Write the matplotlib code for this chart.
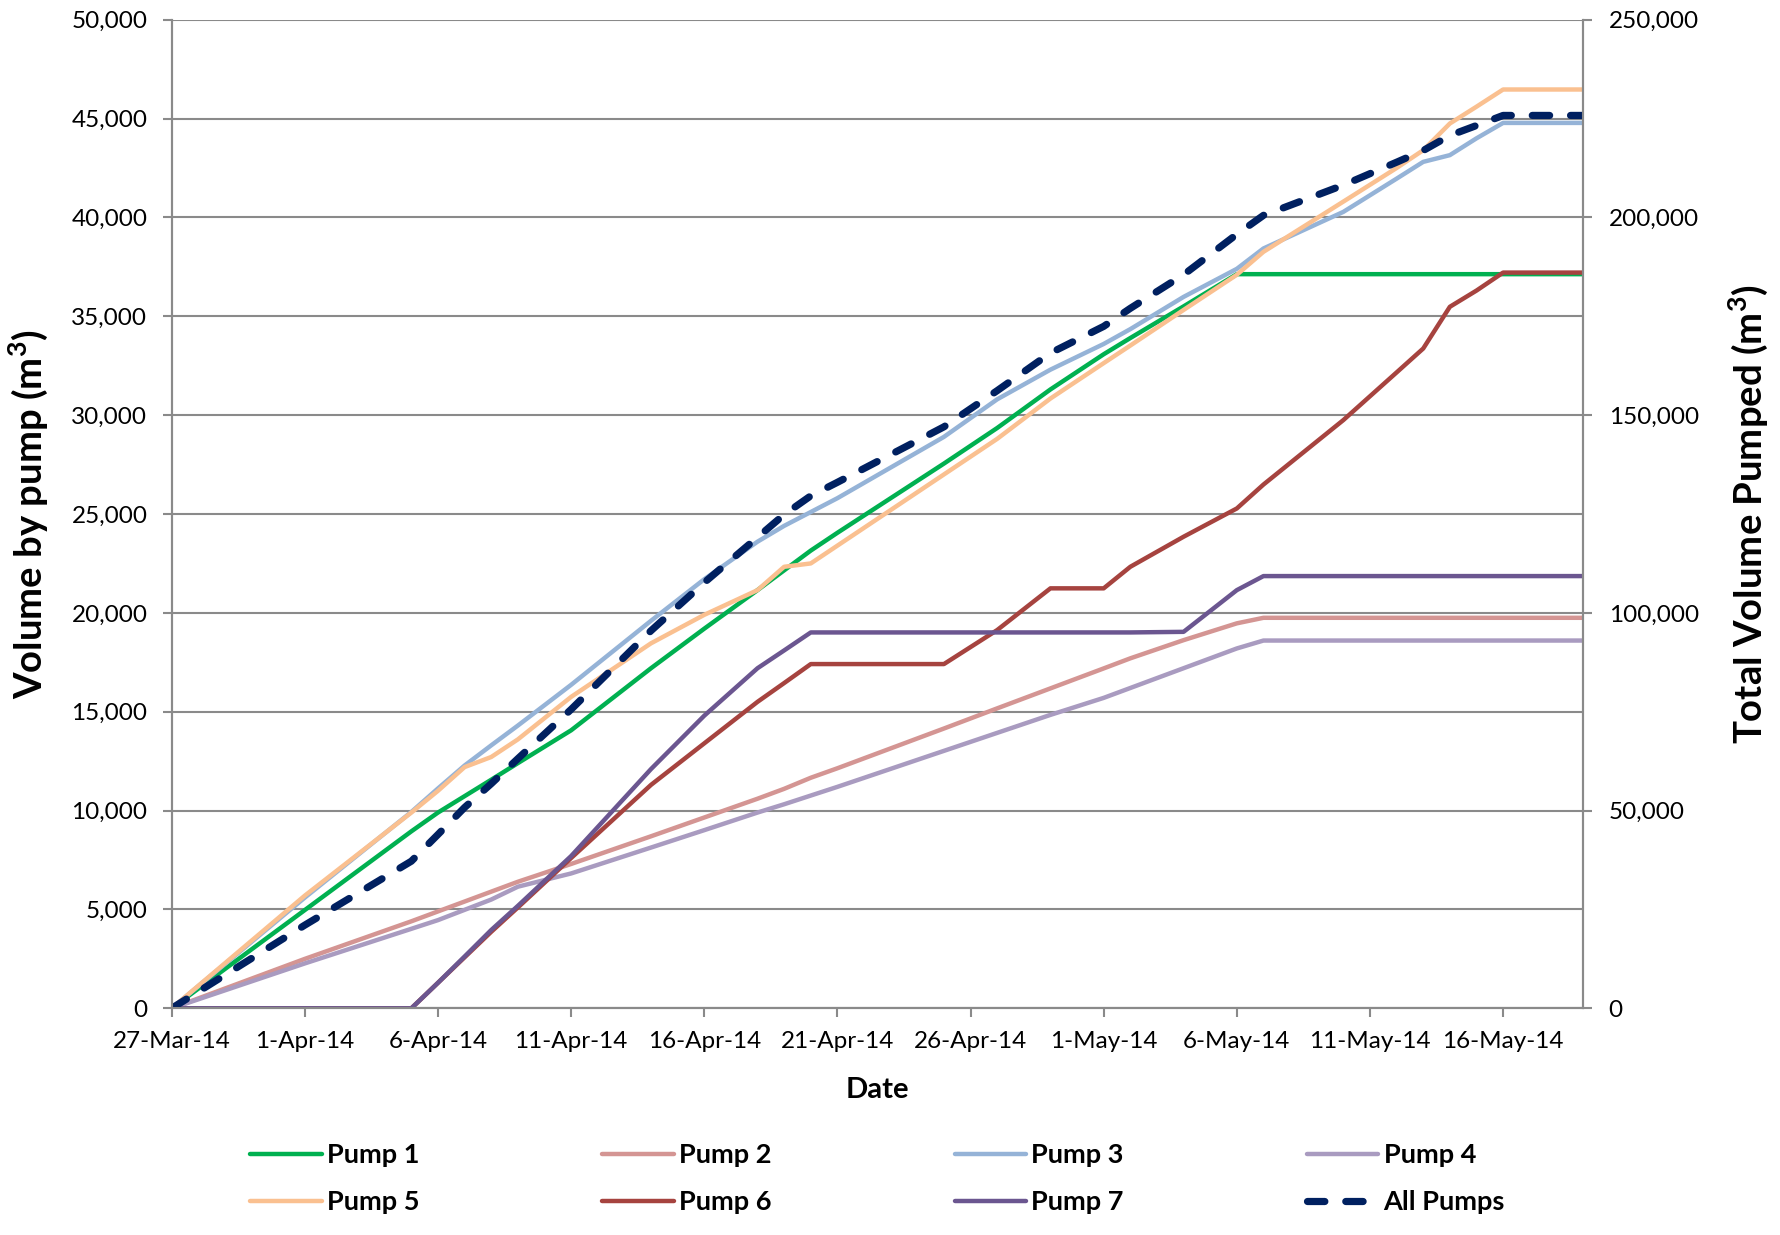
import numpy as np
import matplotlib
matplotlib.use("Agg")
import matplotlib.pyplot as plt
from matplotlib.ticker import FuncFormatter, MultipleLocator

plt.rcParams["font.family"] = ["Lato", "DejaVu Sans"]
plt.rcParams["mathtext.fontset"] = "custom"
plt.rcParams["mathtext.rm"] = "Lato"
plt.rcParams["mathtext.bf"] = "Lato:bold"

# ---- data -------------------------------------------------------------
start_date = np.datetime64("2014-03-27")
days = [0, 5, 9, 10, 11, 12, 13, 15, 18, 20, 22, 23, 24, 25, 29, 31, 33,
        35, 36, 38, 40, 41, 44, 46, 47, 48, 49, 50, 53]

pump1 = [0, 4970, 8950, 9900, 10730, 11560, 12400, 14060, 17200, 19200,
         21150, 22150, 23150, 24050, 27550, 29350, 31300, 33080, 33900,
         35500, 37130, 37130, 37130, 37130, 37130, 37130, 37130, 37130, 37130]
pump2 = [0, 2500, 4400, 4900, 5400, 5900, 6400, 7300, 8700, 9650, 10600,
         11100, 11660, 12140, 14150, 15170, 16180, 17190, 17700, 18620,
         19470, 19750, 19750, 19750, 19750, 19750, 19750, 19750, 19750]
pump3 = [0, 5600, 9930, 11120, 12280, 13300, 14300, 16360, 19600, 21700,
         23600, 24400, 25100, 25800, 28900, 30800, 32300, 33600, 34350,
         35980, 37400, 38430, 40280, 41960, 42810, 43150, 44000, 44780, 44780]
pump4 = [0, 2270, 4020, 4460, 4980, 5500, 6150, 6820, 8130, 9010, 9900,
         10320, 10760, 11200, 13020, 13930, 14840, 15700, 16200, 17200,
         18200, 18600, 18600, 18600, 18600, 18600, 18600, 18600, 18600]
pump5 = [0, 5700, 9900, 11000, 12200, 12710, 13600, 15750, 18460, 19900,
         21150, 22330, 22500, 23400, 27000, 28800, 30840, 32630, 33520,
         35320, 37100, 38260, 40800, 42500, 43400, 44750, 45600, 46470, 46470]
pump6 = [0, 0, 0, 1290, 2580, 3870, 5100, 7600, 11300, 13400, 15500, 16450,
         17410, 17410, 17410, 19130, 21240, 21240, 22330, 23850, 25280,
         26490, 29750, 32160, 33370, 35480, 36300, 37210, 37210]
pump7 = [0, 0, 0, 1290, 2620, 3960, 5180, 7700, 12100, 14800, 17200, 18100,
         19010, 19010, 19010, 19010, 19010, 19010, 19010, 19040, 21150,
         21860, 21860, 21860, 21860, 21860, 21860, 21860, 21860]
all_pumps = [0, 21040, 37200, 43960, 50790, 56800, 63130, 75590, 95490,
             107660, 119100, 124850, 129590, 133010, 147040, 156190, 165710,
             172450, 177010, 185510, 195730, 200520, 208170, 213960, 216920,
             220720, 223240, 225790, 225790]

series_names = ["Pump 1", "Pump 2", "Pump 3", "Pump 4", "Pump 5", "Pump 6", "Pump 7"]
series_values = [pump1, pump2, pump3, pump4, pump5, pump6, pump7]
series_colors = ["#00B050", "#D49593", "#95B3D7", "#A99BC0", "#FAC090",
                 "#A6433F", "#6B5690"]

tick_labels = ["27-Mar-14", "1-Apr-14", "6-Apr-14", "11-Apr-14", "16-Apr-14",
               "21-Apr-14", "26-Apr-14", "1-May-14", "6-May-14", "11-May-14",
               "16-May-14"]
last_day = 53

# ---- figure -----------------------------------------------------------
W, H = 1781, 1235
fig = plt.figure(figsize=(W / 100, H / 100), dpi=100)
ax = fig.add_axes([171.7 / W, 1 - 1008.3 / H, (1583 - 171.7) / W, (1008.3 - 19.7) / H])
ax2 = ax.twinx()

dates = start_date + np.array(days)
grid_col = "#8A8A8A"

handles = []
for name, vals, col in zip(series_names, series_values, series_colors):
    h, = ax.plot(dates, vals, color=col, lw=3.2, label=name,
                 solid_joinstyle="round", solid_capstyle="round")
    handles.append(h)

h_all, = ax2.plot(dates, all_pumps, color="#002060", lw=5.2,
                  linestyle=(0, (2.4, 2.9)), dash_capstyle="round",
                  label="All Pumps")
handles.append(h_all)

# axes limits & ticks
ax.set_xlim(start_date, start_date + last_day)
ax.set_ylim(0, 50000)
ax2.set_ylim(0, 250000)
ax.yaxis.set_major_locator(MultipleLocator(5000))
ax2.yaxis.set_major_locator(MultipleLocator(50000))
fmt = FuncFormatter(lambda v, p: f"{int(v):,}")
ax.yaxis.set_major_formatter(fmt)
ax2.yaxis.set_major_formatter(fmt)

tick_dates = start_date + 5 * np.arange(len(tick_labels))
ax.set_xticks(tick_dates)
ax.set_xticklabels(tick_labels)

ax.grid(axis="y", color=grid_col, lw=1.5)
ax.set_axisbelow(True)

for a in (ax, ax2):
    a.spines["top"].set_visible(False)
    for s in ("left", "right", "bottom"):
        a.spines[s].set_color(grid_col)
        a.spines[s].set_linewidth(1.5)

ax.tick_params(axis="both", which="major", labelsize=17.5, color=grid_col,
               width=1.5, length=6.5, direction="out")
ax.tick_params(axis="y", pad=11)
ax.tick_params(axis="x", pad=10)
ax2.tick_params(axis="y", labelsize=17.5, color=grid_col, width=1.5,
                length=6.5, direction="out", pad=12)

# axis titles
ax.set_ylabel(r"Volume by pump (m$^{\mathbf{3}}$)", fontsize=27.5, fontweight="bold")
ax.yaxis.set_label_coords(-0.086, 0.5)
ax2.set_ylabel(r"Total Volume Pumped (m$^{\mathbf{3}}$)", fontsize=27.5,
               fontweight="bold", rotation=90)
ax2.yaxis.set_label_coords(1.102, 0.5)
ax.set_xlabel("Date", fontsize=21, fontweight="bold")
ax.xaxis.set_label_coords(0.5, -0.0695)

# legend, filled row by row
order = [0, 4, 1, 5, 2, 6, 3, 7]
fig.legend([handles[i] for i in order], [handles[i].get_label() for i in order],
           loc="center", bbox_to_anchor=(877.5 / W, 1 - 1178.5 / H), ncol=4,
           frameon=False, borderpad=0, handlelength=2.64, handletextpad=0.2,
           columnspacing=6.75, labelspacing=0.85,
           prop={"size": 19.5, "weight": "bold"})

fig.savefig("out.png", dpi=100)
